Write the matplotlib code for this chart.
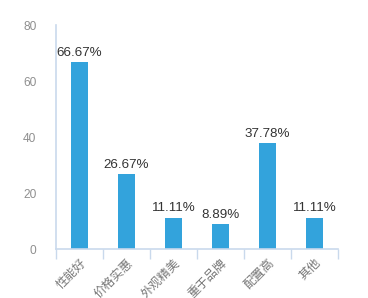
import numpy as np
import matplotlib
matplotlib.use("Agg")
import matplotlib.pyplot as plt

categories = ["性能好", "价格实惠", "外观精美", "重于品牌", "配置高", "其他"]
values = [66.67, 26.67, 11.11, 8.89, 37.78, 11.11]
yticks = [0, 20, 40, 60, 80]

bar_color = "#33a3dc"
axis_color = "#c9d9ec"
label_gray = "#8f8f8f"

fig = plt.figure(figsize=(3.68, 2.98), dpi=100)
ax = fig.add_axes([0.152, 0.164, 0.766, 0.752])

x = np.arange(len(categories))
ax.bar(x, values, width=0.36, color=bar_color, zorder=2)

for xi, v in zip(x, values):
    ax.text(xi, v + 1.3, f"{v:.2f}%", ha="center", va="bottom",
            fontsize=9.6, color="#333333", family="Liberation Sans")

ax.set_xlim(-0.5, len(categories) - 0.5)
ax.set_ylim(0, 80)
ax.set_yticks(yticks)
ax.set_yticklabels([str(t) for t in yticks], fontsize=8.6,
                   color=label_gray, family="Liberation Sans")
ax.tick_params(axis="y", length=0, pad=14)

# x ticks sit on the category boundaries, labels at the centres
ax.set_xticks(np.arange(len(categories) + 1) - 0.5)
ax.set_xticklabels([])
ax.tick_params(axis="x", length=7, width=1, color=axis_color)
ax.set_xticks(x, minor=True)
ax.set_xticklabels(categories, minor=True, rotation=45, ha="right",
                   rotation_mode="anchor", fontsize=8.8, color="#777777",
                   family=["Noto Sans CJK SC", "DejaVu Sans"])
ax.tick_params(axis="x", which="minor", length=0, pad=5)

for side in ["top", "right"]:
    ax.spines[side].set_visible(False)
for side in ["left", "bottom"]:
    ax.spines[side].set_color(axis_color)
    ax.spines[side].set_linewidth(1.2)

fig.savefig("out.png", dpi=100)
